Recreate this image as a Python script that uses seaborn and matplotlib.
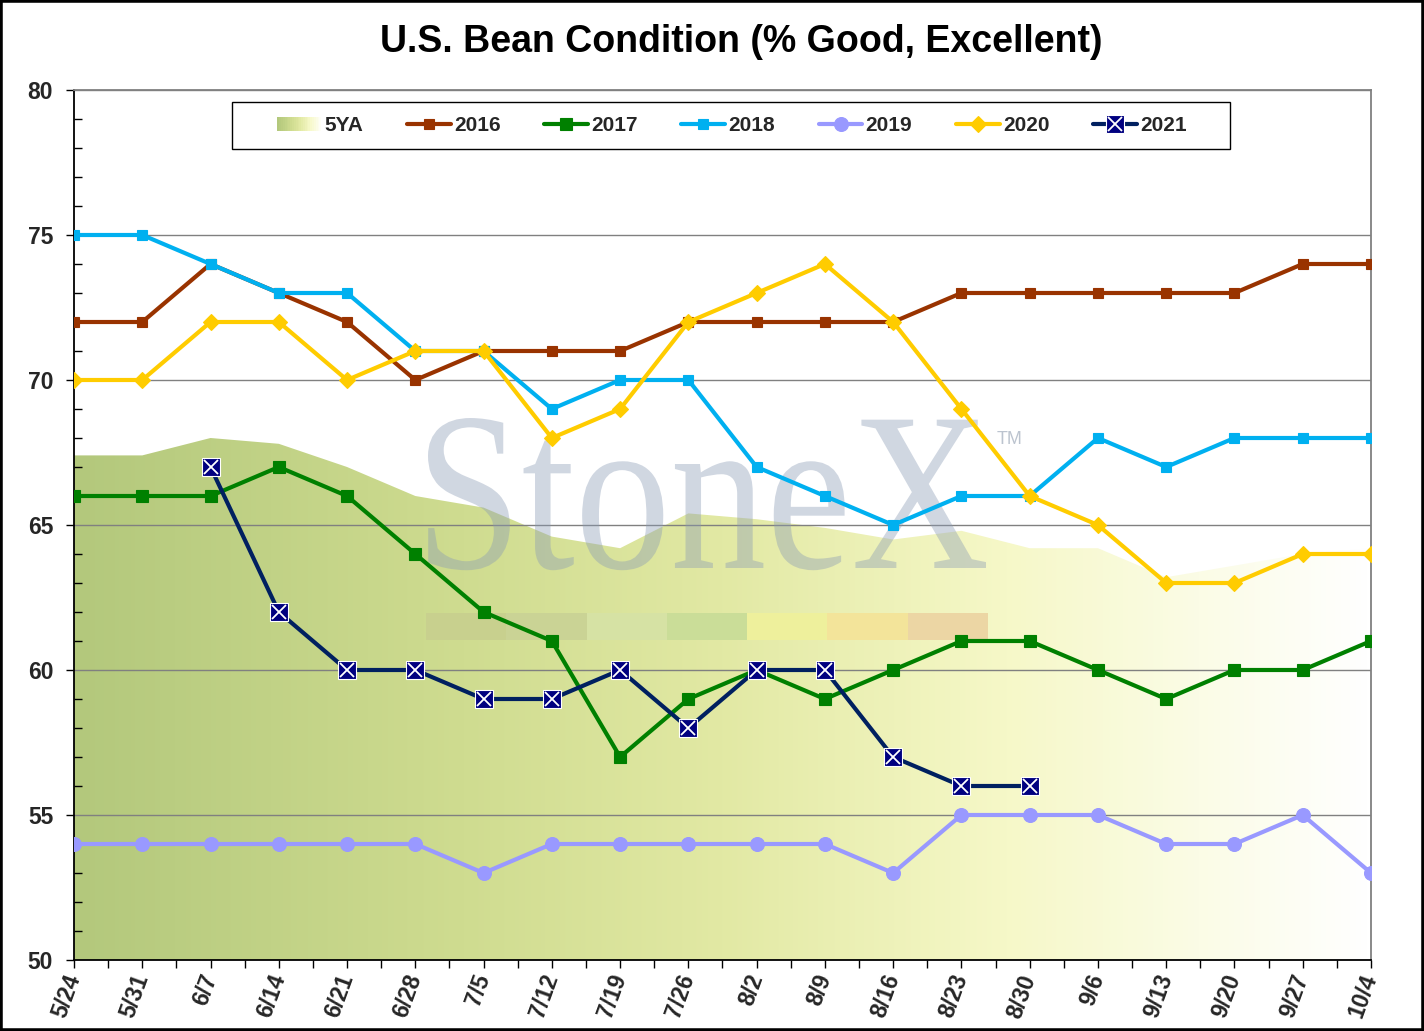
import numpy as np
import pandas as pd
import matplotlib
matplotlib.use('Agg')
import matplotlib.pyplot as plt
import seaborn as sns
from matplotlib.patches import Rectangle, PathPatch, Patch
from matplotlib.textpath import TextPath
from matplotlib.font_manager import FontProperties
from matplotlib.transforms import Affine2D
from matplotlib.legend_handler import HandlerBase, HandlerTuple
from matplotlib.colors import LinearSegmentedColormap
from matplotlib.lines import Line2D

# ---------------- data ----------------
weeks = ['5/24', '5/31', '6/7', '6/14', '6/21', '6/28', '7/5', '7/12', '7/19', '7/26',
         '8/2', '8/9', '8/16', '8/23', '8/30', '9/6', '9/13', '9/20', '9/27', '10/4']
avg5 = [67.4, 67.4, 68.0, 67.8, 67.0, 66.0, 65.6, 64.6, 64.2, 65.4,
        65.2, 64.9, 64.5, 64.8, 64.2, 64.2, 63.2, 63.6, 64.0, 64.2]
y2016 = [72, 72, 74, 73, 72, 70, 71, 71, 71, 72, 72, 72, 72, 73, 73, 73, 73, 73, 74, 74]
y2017 = [66, 66, 66, 67, 66, 64, 62, 61, 57, 59, 60, 59, 60, 61, 61, 60, 59, 60, 60, 61]
y2018 = [75, 75, 74, 73, 73, 71, 71, 69, 70, 70, 67, 66, 65, 66, 66, 68, 67, 68, 68, 68]
y2019 = [54, 54, 54, 54, 54, 54, 53, 54, 54, 54, 54, 54, 53, 55, 55, 55, 54, 54, 55, 53]
y2020 = [70, 70, 72, 72, 70, 71, 71, 68, 69, 72, 73, 74, 72, 69, 66, 65, 63, 63, 64, 64]
y2021 = [np.nan, np.nan, 67, 62, 60, 60, 59, 59, 60, 58, 60, 60, 57, 56, 56,
         np.nan, np.nan, np.nan, np.nan, np.nan]
series_names = ['2016', '2017', '2018', '2019', '2020', '2021']
title = 'U.S. Bean Condition (% Good, Excellent)'

# ---------------- style ----------------
sns.set_style('white')
plt.rcParams['font.family'] = ['Liberation Sans', 'DejaVu Sans']
plt.rcParams['font.weight'] = 'bold'

W, H = 1424, 1031
fig = plt.figure(figsize=(W / 100, H / 100), dpi=100)
ax = fig.add_axes([74 / W, (H - 960) / H, 1297 / W, 870 / H])

x = np.arange(len(weeks))
df = pd.DataFrame({'x': x, '5YA': avg5, '2016': y2016, '2017': y2017, '2018': y2018,
                   '2019': y2019, '2020': y2020, '2021': y2021})

# ---------------- 5YA gradient area ----------------
grad_cmap = LinearSegmentedColormap.from_list(
    'g', [(0, '#b3c87c'), (0.3, '#cfdc90'), (0.5, '#e2e9a4'), (0.72, '#f6f8c8'),
          (0.87, '#fbfce6'), (1, '#ffffff')])
poly = ax.fill_between(df['x'], 50, df['5YA'], color='none', lw=0, zorder=1)
im = ax.imshow(np.linspace(0, 1, 512).reshape(1, -1), cmap=grad_cmap,
               extent=(0, len(weeks) - 1, 50, 80), aspect='auto', zorder=1)
im.set_clip_path(poly.get_paths()[0], transform=ax.transData)

# ---------------- watermark ----------------
tp = TextPath((0, 0), 'StoneX', size=1,
              prop=FontProperties(family='Liberation Serif', weight='normal'))
ext = tp.get_extents()
sx = (558 / 1297) / ext.width
sy = ((960 - 418) / 870 - (960 - 568) / 870) / ext.y1
tx = (428 - 74) / 1297 - ext.x0 * sx
ty = (960 - 568) / 870
wm = PathPatch(tp, transform=Affine2D().scale(sx, sy).translate(tx, ty) + ax.transAxes,
               facecolor='#8a9bb5', edgecolor='none', alpha=0.4, zorder=1.6)
ax.add_patch(wm)
ax.text((997 - 74) / 1297, (960 - 440) / 870, 'TM', transform=ax.transAxes,
        fontsize=13, fontweight='normal', color='#bcc4cf', ha='left', va='center', zorder=1.6)
bar_cols = ['#c8d08e', '#cad395', '#d6e2a4', '#cadd98', '#eef09c', '#f3e49a', '#ecd6a4']
seg_w = (562 / 7) / 1297
for i, c in enumerate(bar_cols):
    ax.add_patch(Rectangle(((426 - 74) / 1297 + i * seg_w, (960 - 640) / 870), seg_w, 27 / 870,
                           transform=ax.transAxes, facecolor=c, edgecolor='none', zorder=1.7))

# ---------------- series ----------------
styles = {
    '2016': dict(color='#993300', marker='s', ms=7.5, mfc='#993300', mec='#993300'),
    '2017': dict(color='#008000', marker='s', ms=8, mfc='#008000', mec='#008000'),
    '2018': dict(color='#00b0f0', marker='s', ms=7.5, mfc='#00b0f0', mec='#00b0f0'),
    '2019': dict(color='#9999ff', marker='o', ms=10, mfc='#9999ff', mec='#9999ff'),
    '2020': dict(color='#ffcc00', marker='D', ms=8, mfc='#ffcc00', mec='#ffcc00'),
    '2021': dict(color='#002060', marker='s', ms=13, mfc='#000080', mec='white'),
}
for name in series_names:
    st = styles[name]
    sub = df[['x', name]].dropna()
    sns.lineplot(data=sub, x='x', y=name, ax=ax, estimator=None, color=st['color'], lw=3,
                 marker=st['marker'], markersize=st['ms'], markerfacecolor=st['mfc'],
                 markeredgecolor=st['mec'], markeredgewidth=0.8, zorder=3, legend=False)
sub21 = df[['x', '2021']].dropna()
ax.plot(sub21['x'], sub21['2021'], linestyle='none', marker='x', color='white',
        markersize=10, markeredgewidth=1.3, zorder=3.5)

# ---------------- axes ----------------
ax.set_xlim(0, len(weeks) - 1)
ax.set_ylim(50, 80)
ax.set_xlabel('')
ax.set_ylabel('')
ax.set_xticks(x)
ax.set_xticklabels(weeks, rotation=70, ha='right', va='center', rotation_mode='anchor',
                   fontsize=16.5, fontweight='bold')
ax.set_xticks(np.arange(0.5, len(weeks) - 1, 1), minor=True)
ax.set_yticks(np.arange(50, 81, 5))
ax.set_yticks(np.arange(50, 81, 1), minor=True)
ax.set_yticklabels([str(v) for v in np.arange(50, 81, 5)], fontsize=16.5, fontweight='bold')
ax.tick_params(axis='x', which='both', bottom=True, direction='out', length=6, width=1,
               color='black', pad=5)
ax.tick_params(axis='y', which='major', left=True, direction='out', length=6, width=1,
               color='black', pad=9)
ax.tick_params(axis='y', which='minor', left=True, direction='in', length=6, width=1,
               color='black')
ax.set_axisbelow('line')
ax.yaxis.grid(True, which='major', color='#808080', lw=1)
ax.xaxis.grid(False)
for s in ['left', 'bottom']:
    ax.spines[s].set_color('black')
    ax.spines[s].set_linewidth(1.3)
for s in ['top', 'right']:
    ax.spines[s].set_color('#808080')
    ax.spines[s].set_linewidth(1.3)

# ---------------- legend ----------------
class GradHandler(HandlerBase):
    def create_artists(self, legend, orig_handle, xdescent, ydescent, width, height,
                       fontsize, trans):
        n = 24
        arts = []
        for i in range(n):
            arts.append(Rectangle((-xdescent + width * i / n, -ydescent), width / n * 1.05,
                                  height, facecolor=grad_cmap(i / (n - 1) * 0.95),
                                  edgecolor='none', transform=trans))
        return arts

grad_proxy = Patch(facecolor='#cfdc90')
handles = [grad_proxy]
for name in series_names:
    st = styles[name]
    ln = Line2D([], [], color=st['color'], lw=3, marker=st['marker'], markersize=st['ms'],
                markerfacecolor=st['mfc'], markeredgecolor=st['mec'], markeredgewidth=0.8)
    if name == '2021':
        xm = Line2D([], [], linestyle='none', marker='x', color='white', markersize=10,
                    markeredgewidth=1.3)
        handles.append((ln, xm))
    else:
        handles.append(ln)
labels = ['5YA'] + series_names

ax.add_patch(Rectangle(((232 - 74) / 1297, (960 - 149) / 870), (1230 - 232) / 1297, 47 / 870,
                       transform=ax.transAxes, facecolor='white', edgecolor='black', lw=1,
                       zorder=4))
leg = ax.legend(handles, labels, ncol=7, loc='center',
                bbox_to_anchor=((732 - 74) / 1297, (960 - 126) / 870), frameon=False,
                prop=FontProperties(family='Liberation Sans', weight='bold', size=15),
                handlelength=2.1, handletextpad=0.15, columnspacing=2.1, numpoints=1,
                handler_map={grad_proxy: GradHandler(), tuple: HandlerTuple(ndivide=1)})
leg.set_zorder(5)

# ---------------- title & border ----------------
fig.text(741.5 / W, 1 - 52 / H, title, ha='center', va='baseline', fontsize=27,
         fontweight='bold', color='black')
fig.add_artist(Rectangle((0, 0), 1, 1, transform=fig.transFigure, fill=False,
                         edgecolor='black', lw=4))

fig.savefig('out.png', dpi=100)
